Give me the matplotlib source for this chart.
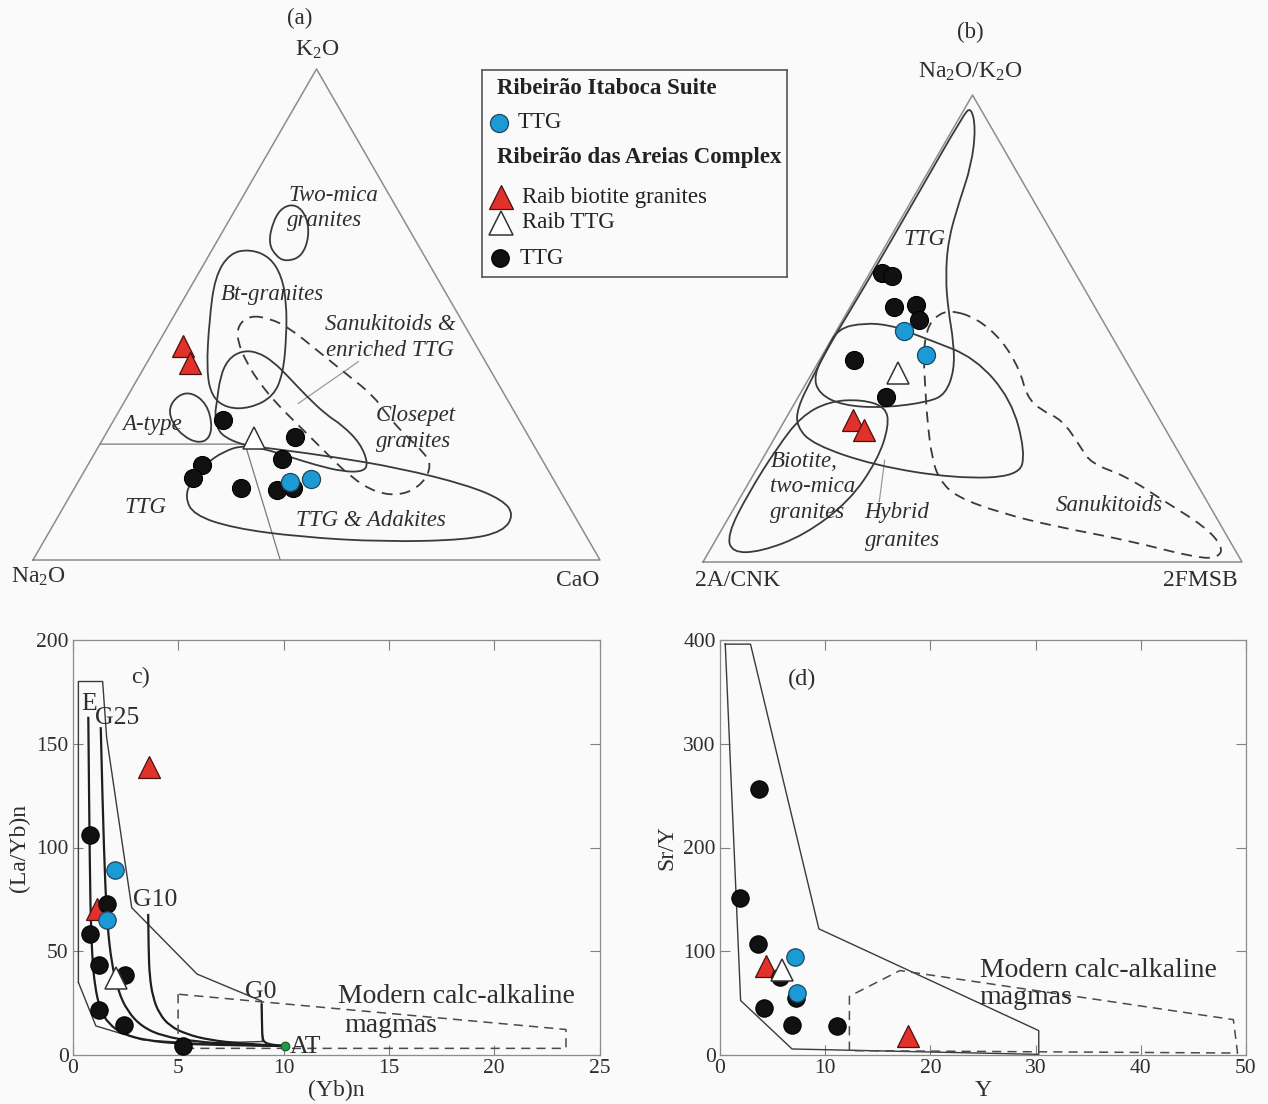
import numpy as np
import matplotlib.pyplot as plt
from matplotlib.path import Path
from matplotlib.patches import PathPatch

plt.rcParams['font.family'] = ['Liberation Serif', 'DejaVu Serif']
plt.rcParams['mathtext.fontset'] = 'custom'
plt.rcParams['mathtext.rm'] = 'Liberation Serif'
plt.rcParams['mathtext.it'] = 'Liberation Serif:italic'

W, H = 1268, 1104
BG = '#fafafa'
INK = '#2e2e2e'
EDGE = '#8c8c8c'
FIELD = '#3a3a3a'
BLUE = '#1c9ad6'
RED = '#e2302a'
GREEN = '#1f9a46'

# ---------------- (a) K2O - Na2O - CaO (relative %) ----------------
a_red_k2o = [43.6, 40.2]
a_red_na2o = [51.7, 52.2]
a_red_cao = [4.7, 7.6]
a_black_k2o = [28.5, 25.1, 20.5, 19.3, 16.8, 14.6, 14.3, 14.6]
a_black_na2o = [52.2, 41.2, 45.8, 60.6, 63.3, 56.1, 49.9, 46.9]
a_black_cao = [19.3, 33.7, 33.7, 20.1, 19.9, 29.3, 35.8, 38.5]
a_blue_k2o = [15.9, 16.4]
a_blue_na2o = [46.7, 42.8]
a_blue_cao = [37.4, 40.8]
a_white_k2o = [24.8]
a_white_na2o = [48.7]
a_white_cao = [26.5]

# field outlines, (x, y) in the triangle plane (base 0..1, height 0..1)
a_two_mica = [(.415, .645), (.430, .617), (.447, .608), (.474, .618), (.487, .658),
              (.483, .699), (.465, .724), (.441, .720), (.424, .692)]
a_bt_granites = [(.383, .633), (.347, .625), (.321, .577), (.311, .489), (.306, .387),
                 (.315, .333), (.342, .309), (.383, .309), (.424, .333), (.441, .380),
                 (.447, .455), (.447, .523), (.439, .577), (.418, .617)]
a_sanukitoids = [(.324, .319), (.330, .373), (.344, .409), (.368, .426), (.395, .424),
                 (.424, .404), (.453, .370), (.483, .333), (.518, .295), (.545, .275),
                 (.577, .238), (.591, .197), (.583, .180), (.547, .180), (.500, .193),
                 (.453, .210), (.406, .227), (.371, .234), (.336, .251), (.324, .271),
                 (.321, .299)]
a_closepet = [(.383, .498), (.362, .479), (.360, .448), (.377, .401), (.400, .360),
              (.430, .318), (.465, .278), (.512, .224), (.559, .170), (.606, .136),
              (.653, .132), (.688, .156), (.703, .193), (.688, .221), (.653, .258),
              (.625, .295), (.600, .335), (.559, .373), (.500, .428), (.453, .472),
              (.418, .492)]
a_ttg_adakites = [(.371, .234), (.441, .224), (.530, .210), (.647, .187), (.765, .153),
                  (.829, .122), (.848, .092), (.829, .058), (.765, .041), (.618, .037),
                  (.471, .047), (.353, .065), (.283, .092), (.268, .129), (.280, .163),
                  (.306, .197), (.336, .221)]
a_a_type = [(.239, .310), (.257, .337), (.281, .341), (.306, .318), (.316, .278),
            (.311, .247), (.292, .238), (.266, .251), (.246, .278)]
a_divide = [(.118, .236), (.374, .236), (.436, 0.0)]
a_leader = [(.468, .319), (.574, .404)]

# ---------------- (b) Na2O/K2O - 2A/CNK - 2FMSB (relative %) ----------------
b_red_top = [30.4, 28.3]
b_red_left = [56.9, 56.0]
b_red_right = [12.7, 15.7]
b_black_top = [61.8, 61.3, 54.5, 55.0, 51.8, 43.3, 35.3]
b_black_left = [35.8, 34.2, 37.4, 32.9, 34.1, 50.4, 48.4]
b_black_right = [2.4, 4.5, 8.1, 12.1, 14.1, 6.3, 16.3]
b_blue_top = [49.5, 44.3]
b_blue_left = [37.9, 36.5]
b_blue_right = [12.6, 19.2]
b_white_top = [40.4]
b_white_left = [43.7]
b_white_right = [15.9]

b_ttg = [(.497, .975), (.506, .93), (.498, .85), (.475, .77), (.455, .69), (.450, .61),
         (.455, .54), (.465, .47), (.466, .41), (.450, .36), (.420, .343), (.335, .330),
         (.260, .335), (.215, .360), (.205, .400), (.232, .460), (.300, .590),
         (.400, .790), (.482, .955)]
b_hybrid = [(.250, .500), (.300, .512), (.347, .507), (.375, .495), (.422, .475),
            (.505, .437), (.572, .348), (.598, .235), (.586, .183), (.467, .179),
            (.317, .207), (.204, .252), (.174, .290), (.175, .330), (.205, .400),
            (.228, .450)]
b_biotite = [(.054, .020), (.045, .058), (.084, .147), (.137, .244), (.182, .312),
             (.234, .344), (.294, .348), (.339, .332), (.345, .292), (.324, .219),
             (.272, .131), (.189, .058), (.107, .022)]
b_sanukitoids = [(.458, .540), (.430, .525), (.415, .497), (.409, .447), (.412, .380),
                 (.416, .304), (.425, .220), (.439, .176), (.469, .140), (.555, .104),
                 (.654, .076), (.786, .047), (.918, .008), (.957, .010), (.964, .033),
                 (.931, .076), (.852, .133), (.786, .183), (.720, .211), (.700, .247),
                 (.667, .304), (.627, .325), (.601, .354), (.588, .411), (.555, .475),
                 (.508, .522)]
b_leader = [(.337, .218), (.327, .129)]

# ---------------- (c) (La/Yb)n vs (Yb)n ----------------
c_red_yb = [3.63, 1.14]
c_red_layb = [139, 70.5]
c_black_yb = [0.82, 1.61, 0.82, 1.25, 2.48, 1.25, 2.45, 5.24]
c_black_layb = [106, 72.6, 58.5, 43.3, 38.5, 21.6, 14.4, 4.3]
c_blue_yb = [2.0, 1.61]
c_blue_layb = [89, 65]
c_white_yb = [2.05]
c_white_layb = [37]
c_at_yb = [10.06]
c_at_layb = [4.3]

c_env_yb = [0.27, 0.27, 1.42, 1.61, 2.8, 5.9, 8.96, 9.0, 6.0, 3.3, 1.1, 0.27]
c_env_layb = [35, 180, 180, 153, 71, 39, 26, 6.5, 5.6, 7.3, 14, 35]
c_e_yb = [0.74, 0.78, 0.84, 0.92, 1.05, 1.3, 1.7, 2.4, 3.5, 5.0, 7.0, 10.06]
c_e_layb = [163, 120, 70, 48, 33, 22, 15, 10, 7, 5.5, 4.8, 4.3]
c_g25_yb = [1.33, 1.42, 1.55, 1.65, 1.85, 2.15, 2.6, 3.3, 4.3, 5.8, 7.8, 10.06]
c_g25_layb = [158, 120, 80, 62, 44, 31, 21, 13.5, 9, 6.5, 5, 4.3]
c_g10_yb = [3.58, 3.6, 3.65, 3.8, 4.1, 4.6, 5.4, 6.5, 8.0, 10.06]
c_g10_layb = [68, 50, 38, 28, 20, 14, 10, 7.2, 5.5, 4.3]
c_g0_yb = [8.96, 8.98, 9.0, 9.1, 9.4, 10.06]
c_g0_layb = [24.8, 15, 8, 6, 5, 4.3]
c_modern_yb = [5.0, 5.0, 23.4, 23.4, 5.0]
c_modern_layb = [29.3, 3.2, 3.2, 12.3, 29.3]

# ---------------- (d) Sr/Y vs Y ----------------
d_red_y = [4.42, 17.9]
d_red_sry = [86.2, 18.7]
d_black_y = [3.72, 1.88, 3.60, 5.67, 7.24, 4.23, 6.81, 11.1]
d_black_sry = [256.8, 151.6, 107.2, 75, 54.7, 45, 29.3, 27.7]
d_blue_y = [7.12, 7.32]
d_blue_sry = [94.9, 59.5]
d_white_y = [5.87]
d_white_sry = [82.4]

d_env_y = [0.5, 2.9, 9.4, 30.3, 30.3, 6.85, 1.96, 0.5]
d_env_sry = [396, 396, 121.6, 23.5, 0.6, 5.8, 52.5, 396]
d_modern_y = [12.3, 12.3, 17.1, 48.8, 49.2, 12.3]
d_modern_sry = [4.2, 56.6, 81.4, 34.1, 1.9, 4.2]


def closed_path(pts):
    p = np.asarray(pts, float)
    mid = (p + np.roll(p, -1, axis=0)) / 2
    verts = [mid[-1]]
    codes = [Path.MOVETO]
    for i in range(len(p)):
        verts += [p[i], mid[i]]
        codes += [Path.CURVE3, Path.CURVE3]
    return Path(verts, codes)


def open_path(xs, ys):
    p = np.column_stack([xs, ys])
    verts = [p[0]]
    codes = [Path.MOVETO]
    for i in range(1, len(p) - 1):
        verts += [p[i], (p[i] + p[i + 1]) / 2]
        codes += [Path.CURVE3, Path.CURVE3]
    verts.append(p[-1])
    codes.append(Path.LINETO)
    return Path(verts, codes)


def tern(top, right, left):
    top, right, left = (np.asarray(v, float) for v in (top, right, left))
    s = top + right + left
    y = top / s
    return right / s + y / 2, y


def field(ax, pts, dashed=False, lw=1.3):
    ls = (0, (6, 4)) if dashed else '-'
    ax.add_patch(PathPatch(closed_path(pts), fill=False, ec=FIELD, lw=lw, ls=ls, zorder=2))


def ftext(x, y, s, **kw):
    kw.setdefault('color', INK)
    kw.setdefault('size', 16.5)
    fig.text(x / W, 1 - y / H, s, ha=kw.pop('ha', 'center'), va=kw.pop('va', 'center'), **kw)


def tri_axes(x0, y0, w, h):
    ax = fig.add_axes([x0 / W, 1 - y0 / H, w / W, h / H])
    ax.set_xlim(0, 1)
    ax.set_ylim(0, 1)
    ax.axis('off')
    ax.plot([0, 1, 0.5, 0], [0, 0, 1, 0], color=EDGE, lw=1.1, clip_on=False, zorder=1)
    return ax


def markers(ax, x, y, kind, ms_c=13, ms_t=15.5):
    if kind == 'red':
        ax.plot(x, y, '^', ms=ms_t, mfc=RED, mec='#4a1210', mew=0.9, ls='none', zorder=4, clip_on=False)
    elif kind == 'black':
        ax.plot(x, y, 'o', ms=ms_c, mfc='#111111', mec='#000000', mew=0.8, ls='none', zorder=5, clip_on=False)
    elif kind == 'blue':
        ax.plot(x, y, 'o', ms=ms_c, mfc=BLUE, mec='#1d4660', mew=0.9, ls='none', zorder=6, clip_on=False)
    else:
        ax.plot(x, y, '^', ms=ms_t, mfc='white', mec='#333333', mew=1.1, ls='none', zorder=7, clip_on=False)


fig = plt.figure(figsize=(W / 100, H / 100), dpi=100, facecolor=BG)

# ---------------- panel (a) ----------------
axa = tri_axes(33, 560, 567, 491)
for pts in (a_two_mica, a_bt_granites, a_sanukitoids, a_ttg_adakites, a_a_type):
    field(axa, pts)
field(axa, a_closepet, dashed=True)
axa.plot(*zip(*a_divide), color='#7a7a7a', lw=0.9, zorder=1)
axa.plot(*zip(*a_leader), color='#9a9a9a', lw=0.9, zorder=1)

markers(axa, *tern(a_red_k2o, a_red_cao, a_red_na2o), 'red')
markers(axa, *tern(a_black_k2o, a_black_cao, a_black_na2o), 'black')
markers(axa, *tern(a_blue_k2o, a_blue_cao, a_blue_na2o), 'blue')
markers(axa, *tern(a_white_k2o, a_white_cao, a_white_na2o), 'white')

it = dict(style='italic', size=16.5, color=INK, ha='center', va='center', zorder=3)
axa.text(.529, .743, 'Two-mica', **it)
axa.text(.515, .692, 'granites', **it)
axa.text(.422, .540, 'Bt-granites', **it)
axa.text(.630, .479, 'Sanukitoids &', **it)
axa.text(.630, .426, 'enriched TTG', **it)
axa.text(.675, .295, 'Closepet', **it)
axa.text(.672, .242, 'granites', **it)
axa.text(.210, .275, 'A-type', **it)
axa.text(.198, .106, 'TTG', **it)
axa.text(.596, .081, 'TTG & Adakites', **it)

ftext(300, 18, '(a)')
ftext(317, 50, 'K$_2$O', size=17)
ftext(38, 577, 'Na$_2$O', size=17)
ftext(578, 580, 'CaO', size=17)

# ---------------- panel (b) ----------------
axb = tri_axes(703, 562, 539, 467)
for pts in (b_ttg, b_hybrid, b_biotite):
    field(axb, pts)
field(axb, b_sanukitoids, dashed=True)
axb.plot(*zip(*b_leader), color='#9a9a9a', lw=0.9, zorder=1)

markers(axb, *tern(b_red_top, b_red_right, b_red_left), 'red', ms_t=16.5)
markers(axb, *tern(b_black_top, b_black_right, b_black_left), 'black')
markers(axb, *tern(b_blue_top, b_blue_right, b_blue_left), 'blue')
markers(axb, *tern(b_white_top, b_white_right, b_white_left), 'white', ms_t=16.5)

axb.text(.411, .691, 'TTG', **it)
itl = dict(it, ha='left')
axb.text(.125, .215, 'Biotite,', **itl)
axb.text(.125, .161, 'two-mica', **itl)
axb.text(.125, .106, 'granites', **itl)
axb.text(.300, .106, 'Hybrid', **itl)
axb.text(.300, .047, 'granites', **itl)
axb.text(.654, .122, 'Sanukitoids', **itl)

ftext(970, 32, '(b)')
ftext(970, 72, 'Na$_2$O/K$_2$O', size=17)
ftext(738, 580, '2A/CNK', size=17)
ftext(1200, 580, '2FMSB', size=17)

# ---------------- legend ----------------
leg = fig.add_axes([482 / W, 1 - 277 / H, 305 / W, 207 / H])
leg.set_xlim(0, 305)
leg.set_ylim(207, 0)
leg.set_xticks([])
leg.set_yticks([])
leg.set_facecolor(BG)
for s in leg.spines.values():
    s.set_color('#555555')
    s.set_linewidth(1.2)
lt = dict(size=16.5, color='#222222', va='center', ha='left')
leg.text(15, 18, 'Ribeirão Itaboca Suite', fontweight='bold', **lt)
leg.plot(17, 53, 'o', ms=13, mfc=BLUE, mec='#1d4660', mew=0.9)
leg.text(36, 53, 'TTG', **lt)
leg.text(15, 88, 'Ribeirão das Areias Complex', fontweight='bold', **lt)
leg.plot(19, 127, '^', ms=17, mfc=RED, mec='#4a1210', mew=0.9)
leg.text(40, 127, 'Raib biotite granites', **lt)
leg.plot(19, 153, '^', ms=17, mfc='white', mec='#333333', mew=1.1)
leg.text(40, 153, 'Raib TTG', **lt)
leg.plot(18, 188, 'o', ms=12.5, mfc='#111111', mec='#000000')
leg.text(38, 188, 'TTG', **lt)


# ---------------- x-y panels ----------------
def xy_axes(x0, y0, w, h, xlim, ylim, xt, yt, xlabel, ylabel):
    ax = fig.add_axes([x0 / W, 1 - y0 / H, w / W, h / H])
    ax.set_facecolor(BG)
    ax.set_xlim(*xlim)
    ax.set_ylim(*ylim)
    ax.set_xticks(xt)
    ax.set_yticks(yt)
    ax.tick_params(direction='in', length=7, width=0.8, color='#808080', top=True, right=True,
                   labelsize=15.5, labelcolor=INK, pad=3)
    for s in ax.spines.values():
        s.set_color('#8c8c8c')
        s.set_linewidth(0.9)
    ax.set_xlabel(xlabel, size=17, color=INK, labelpad=1)
    ax.set_ylabel(ylabel, size=17, color=INK, labelpad=4)
    return ax


axc = xy_axes(72.7, 1055, 527, 415, (0, 25), (0, 200), [0, 5, 10, 15, 20, 25],
              [0, 50, 100, 150, 200], '(Yb)n', '(La/Yb)n')
axc.plot(c_env_yb, c_env_layb, color=FIELD, lw=1.0, zorder=2)
for xs, ys in ((c_e_yb, c_e_layb), (c_g25_yb, c_g25_layb), (c_g10_yb, c_g10_layb),
               (c_g0_yb, c_g0_layb)):
    axc.add_patch(PathPatch(open_path(xs, ys), fill=False, ec='#1e1e1e', lw=1.6, zorder=2))
axc.plot(c_modern_yb, c_modern_layb, color='#4a4a4a', lw=1.1, ls=(0, (6, 4)), zorder=2)
markers(axc, c_red_yb, c_red_layb, 'red', ms_c=12.5, ms_t=16.5)
markers(axc, c_black_yb, c_black_layb, 'black', ms_c=12.5)
markers(axc, c_blue_yb, c_blue_layb, 'blue', ms_c=12.5)
markers(axc, c_white_yb, c_white_layb, 'white', ms_t=16.5)
axc.plot(c_at_yb, c_at_layb, 'o', ms=6.3, mfc=GREEN, mec='#0d4d20', mew=0.7, zorder=6)
tc = dict(color=INK, ha='center', va='center', zorder=3)
axc.text(3.2, 182, 'c)', size=17.5, **tc)
axc.text(0.79, 169, 'E', size=18.5, **tc)
axc.text(2.13, 162.5, 'G25', size=18.5, **tc)
axc.text(3.9, 74.8, 'G10', size=18.5, **tc)
axc.text(8.9, 30.4, 'G0', size=18.5, **tc)
axc.text(11.05, 4, 'AT', size=18.5, **tc)
axc.text(12.6, 28, 'Modern calc-alkaline', size=20, color=INK, ha='left', va='center')
axc.text(12.9, 14.2, 'magmas', size=20, color=INK, ha='left', va='center')

axd = xy_axes(720, 1055, 526, 415, (0, 50), (0, 400), [0, 10, 20, 30, 40, 50],
              [0, 100, 200, 300, 400], 'Y', 'Sr/Y')
axd.plot(d_env_y, d_env_sry, color=FIELD, lw=1.0, zorder=2)
axd.plot(d_modern_y, d_modern_sry, color='#4a4a4a', lw=1.1, ls=(0, (6, 4)), zorder=2)
markers(axd, d_red_y, d_red_sry, 'red', ms_c=12.5, ms_t=16.5)
markers(axd, d_black_y, d_black_sry, 'black', ms_c=12.5)
markers(axd, d_blue_y, d_blue_sry, 'blue', ms_c=12.5)
markers(axd, d_white_y, d_white_sry, 'white', ms_t=16.5)
axd.text(7.8, 362, '(d)', size=17.5, **tc)
axd.text(24.7, 81.4, 'Modern calc-alkaline', size=20, color=INK, ha='left', va='center')
axd.text(24.7, 55.7, 'magmas', size=20, color=INK, ha='left', va='center')

fig.savefig('out.png', dpi=100, facecolor=BG)
